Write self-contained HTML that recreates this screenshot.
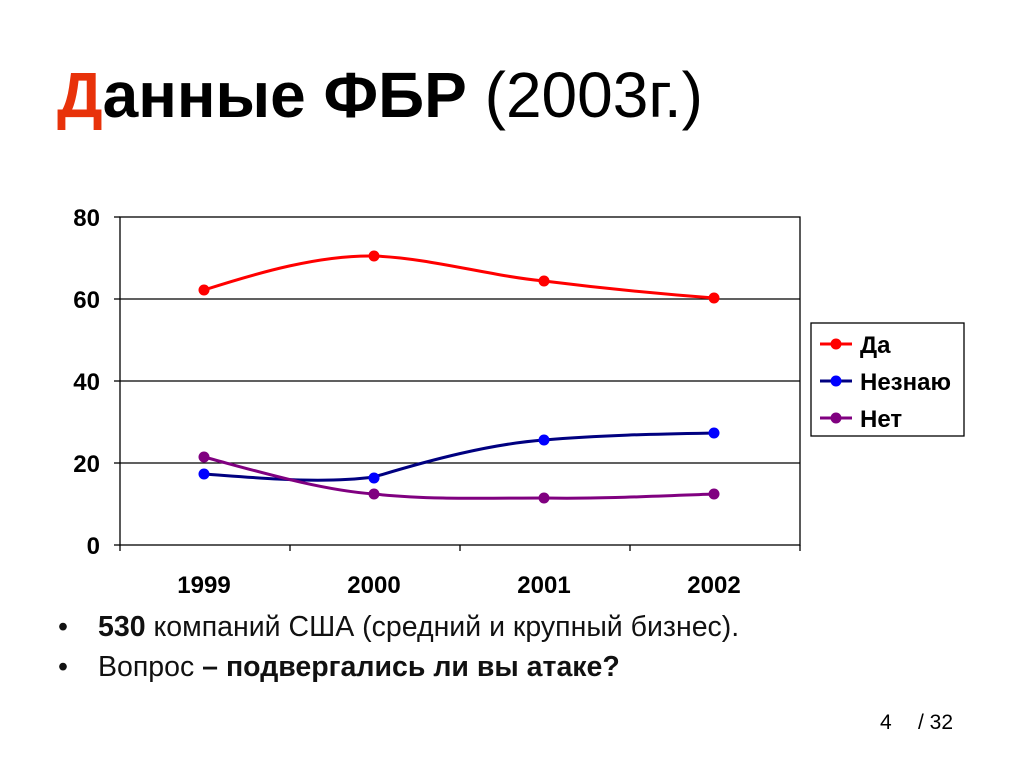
<!DOCTYPE html>
<html><head><meta charset="utf-8"><style>
body{margin:0;background:#fff;width:1024px;height:767px;overflow:hidden;position:relative;font-family:"Liberation Sans",Arial,sans-serif}
.t{position:absolute;left:57px;top:58px;font-size:64px;color:#000;white-space:nowrap}
.b{position:absolute;font-size:28.5px;white-space:nowrap;color:#111}
</style></head><body>
<div class="t"><b><span style="color:#e8320a">Д</span>анные ФБР</b> (2003г.)</div>
<svg width="1024" height="767" style="position:absolute;left:0;top:0" font-family="Liberation Sans, Arial, sans-serif">
<g stroke="#000" stroke-width="1.3" fill="none">
<rect x="120" y="217" width="680" height="328"/>
<line x1="120" y1="299" x2="800" y2="299"/>
<line x1="120" y1="381" x2="800" y2="381"/>
<line x1="120" y1="463" x2="800" y2="463"/>
<line x1="114" y1="217" x2="120" y2="217"/><line x1="114" y1="299" x2="120" y2="299"/><line x1="114" y1="381" x2="120" y2="381"/><line x1="114" y1="463" x2="120" y2="463"/><line x1="114" y1="545" x2="120" y2="545"/>
<line x1="120" y1="545" x2="120" y2="551"/><line x1="290" y1="545" x2="290" y2="551"/><line x1="460" y1="545" x2="460" y2="551"/><line x1="630" y1="545" x2="630" y2="551"/><line x1="800" y1="545" x2="800" y2="551"/>
</g>
<g font-size="24" font-weight="bold" text-anchor="end">
<text x="100" y="226">80</text><text x="100" y="308">60</text><text x="100" y="390">40</text><text x="100" y="472">20</text><text x="100" y="554">0</text>
</g>
<g font-size="24" font-weight="bold" text-anchor="middle">
<text x="204" y="593">1999</text><text x="374" y="593">2000</text><text x="544" y="593">2001</text><text x="714" y="593">2002</text>
</g>
<path d="M204,290 C260,272 320,255 374,256 C430,258 490,276 544,281 C600,288 660,294 714,298" stroke="#ff0000" stroke-width="3" fill="none"/>
<path d="M204,474 C260,478 320,484 374,477 C430,460 490,444 544,440 C600,435 660,434 714,433" stroke="#000080" stroke-width="3" fill="none"/>
<path d="M204,457 C260,472 320,490 374,494 C430,500 490,498 544,498 C600,499 660,496 714,494" stroke="#800080" stroke-width="3" fill="none"/>
<g fill="#ff0000"><circle cx="204" cy="290" r="5.5"/><circle cx="374" cy="256" r="5.5"/><circle cx="544" cy="281" r="5.5"/><circle cx="714" cy="298" r="5.5"/></g>
<g fill="#0000ff"><circle cx="204" cy="474" r="5.5"/><circle cx="374" cy="478" r="5.5"/><circle cx="544" cy="440" r="5.5"/><circle cx="714" cy="433" r="5.5"/></g>
<g fill="#800080"><circle cx="204" cy="457" r="5.5"/><circle cx="374" cy="494" r="5.5"/><circle cx="544" cy="498" r="5.5"/><circle cx="714" cy="494" r="5.5"/></g>
<rect x="811" y="323" width="153" height="113" fill="#fff" stroke="#000" stroke-width="1.3"/>
<line x1="820" y1="344" x2="852" y2="344" stroke="#ff0000" stroke-width="3"/><circle cx="836" cy="344" r="5.5" fill="#ff0000"/>
<line x1="820" y1="381" x2="852" y2="381" stroke="#000080" stroke-width="3"/><circle cx="836" cy="381" r="5.5" fill="#0000ff"/>
<line x1="820" y1="418" x2="852" y2="418" stroke="#800080" stroke-width="3"/><circle cx="836" cy="418" r="5.5" fill="#800080"/>
<g font-size="24" font-weight="bold"><text x="860" y="353">Да</text><text x="860" y="390">Незнаю</text><text x="860" y="427">Нет</text></g>
<text x="880" y="729" font-size="21">4</text><text x="918" y="729" font-size="21">/ 32</text>
</svg>
<div class="b" style="left:58px;top:611px">•</div>
<div class="b" style="left:98px;top:611px"><b>530</b> компаний США (средний и крупный бизнес).</div>
<div class="b" style="left:58px;top:651px">•</div>
<div class="b" style="left:98px;top:651px">Вопрос <b>– подвергались ли вы атаке?</b></div>
</body></html>
